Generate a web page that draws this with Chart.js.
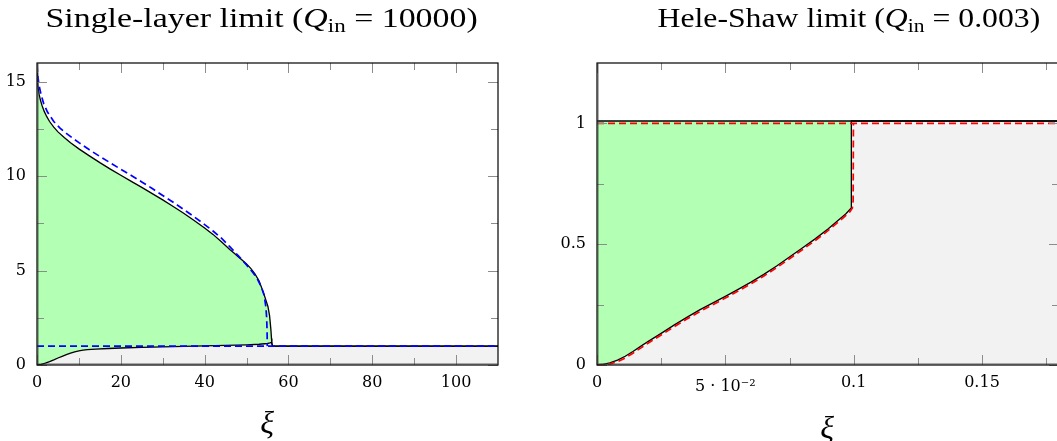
<!DOCTYPE html>
<html>
<head>
<meta charset="utf-8">
<script src="https://cdn.jsdelivr.net/npm/chart.js@4.4.0/dist/chart.umd.min.js"></script>
<style>
  html, body { margin: 0; padding: 0; background: #fff; width: 1057px; height: 441px; overflow: hidden; position: relative; }
  canvas { position: absolute; top: 0; }
  .ttl { position: absolute; top: 4px; font-family: "Liberation Serif", serif; font-size: 28px; line-height: 28px; white-space: nowrap; color: #000; transform-origin: 50% 50%; }
  .ttl sub { font-size: 19px; vertical-align: -5px; line-height: 0; }
  .xl { position: absolute; font-family: "Liberation Serif", serif; font-style: italic; font-size: 32px; line-height: 32px; transform: translateX(-50%); color: #000; }
</style>
</head>
<body>
<canvas id="c1" width="522" height="441" style="left:0px"></canvas>
<canvas id="c2" width="540" height="441" style="left:560px"></canvas>
<div class="ttl" id="t1" data-cx="261" data-w="432">Single-layer limit (<i>Q</i><sub>in</sub> = 10000)</div>
<div class="ttl" id="t2" data-cx="848.5" data-w="383">Hele-Shaw limit (<i>Q</i><sub>in</sub> = 0.003)</div>
<div class="xl" style="left:267px; top:406px">ξ</div>
<div class="xl" style="left:827px; top:411px">ξ</div>
<script>
// ---------- Left panel: single-layer limit ----------
const slLowerX = [0, 1, 2, 3, 4, 5, 6, 7, 8, 9, 10, 11, 12, 14, 17, 20, 25, 30, 35, 40, 45, 50, 53, 55, 55.6, 55.95, 56.2, 110];
const slLowerY = [0, 0.03, 0.1, 0.18, 0.27, 0.37, 0.46, 0.55, 0.63, 0.7, 0.75, 0.785, 0.81, 0.845, 0.875, 0.9, 0.935, 0.96, 0.985, 1.01, 1.04, 1.07, 1.1, 1.14, 1.17, 1.2, 1.0, 1.0];
const slUpperX = [0, 0.1, 0.25, 0.5, 0.8, 1.2, 1.7, 2.3, 3, 4, 5, 6.5, 8, 10, 12.5, 15, 17.5, 20, 22.5, 25, 27.5, 30, 32.5, 35, 37.5, 40, 42, 44, 46, 47, 48, 49, 50, 51, 52, 53, 54, 54.6, 55.1, 55.5, 55.8, 55.95, 56.05, 56.2, 110];
const slUpperY = [15.5, 15.1, 14.75, 14.35, 14.05, 13.75, 13.45, 13.17, 12.9, 12.6, 12.35, 12.05, 11.78, 11.45, 11.08, 10.72, 10.38, 10.05, 9.73, 9.41, 9.08, 8.75, 8.4, 8.04, 7.66, 7.26, 6.92, 6.53, 6.12, 5.93, 5.74, 5.55, 5.35, 5.12, 4.83, 4.45, 3.85, 3.45, 3.1, 2.6, 1.9, 1.4, 1.15, 1.0, 1.0];
const slApproxX = [0, 0.2, 0.5, 1, 1.6, 2.5, 4, 5.5, 7, 10, 12.5, 15, 17.5, 20, 22.5, 25, 27.5, 30, 32.5, 35, 37.5, 40, 42, 44, 46, 48, 50, 51.5, 52.5, 53.5, 54.2, 54.6, 54.8, 54.9, 54.95];
const slApproxY = [15.9, 15.3, 14.8, 14.3, 13.85, 13.4, 12.9, 12.55, 12.27, 11.78, 11.4, 11.05, 10.71, 10.37, 10.04, 9.7, 9.35, 8.98, 8.62, 8.24, 7.85, 7.44, 7.1, 6.72, 6.27, 5.8, 5.3, 4.9, 4.6, 4.15, 3.7, 3.1, 2.5, 1.8, 1.0];
const slBaseX = [0, 110];
const slBaseY = [1, 1];
const slXMajor = [0, 20, 40, 60, 80, 100];
const slXMinor = [10, 30, 50, 70, 90];
const slYMajor = [0, 5, 10, 15];
const slYMinor = [2.5, 7.5, 12.5];
const slXLabels = ['0', '20', '40', '60', '80', '100'];
const slYLabels = ['0', '5', '10', '15'];

// ---------- Right panel: Hele-Shaw limit ----------
const hsLowerX = [0, 0.002, 0.005, 0.008, 0.011, 0.014, 0.017, 0.02, 0.025, 0.03, 0.035, 0.04, 0.045, 0.05, 0.055, 0.06, 0.065, 0.07, 0.075, 0.08, 0.085, 0.09, 0.094, 0.097, 0.099, 0.0991, 0.18];
const hsLowerY = [0, 0.002, 0.009, 0.02, 0.036, 0.056, 0.077, 0.098, 0.131, 0.165, 0.197, 0.228, 0.256, 0.284, 0.313, 0.343, 0.375, 0.41, 0.447, 0.484, 0.522, 0.563, 0.599, 0.626, 0.649, 1.01, 1.01];
const hsUpperX = [0, 0.18];
const hsUpperY = [1.01, 1.01];
const hsApproxX = [0, 0.002, 0.005, 0.008, 0.011, 0.014, 0.017, 0.02, 0.025, 0.03, 0.035, 0.04, 0.045, 0.05, 0.055, 0.06, 0.065, 0.07, 0.075, 0.08, 0.085, 0.09, 0.094, 0.097, 0.0985, 0.0995, 0.0998, 0.0999];
const hsApproxY = [0, 0.001, 0.005, 0.014, 0.029, 0.049, 0.07, 0.091, 0.124, 0.158, 0.19, 0.221, 0.249, 0.277, 0.306, 0.336, 0.368, 0.403, 0.44, 0.477, 0.515, 0.556, 0.592, 0.619, 0.634, 0.65, 0.68, 1.0];
const hsTopX = [0, 0.18];
const hsTopY = [1.0, 1.0];
const hsXMajor = [0, 0.05, 0.1, 0.15];
const hsXMinor = [0.025, 0.075, 0.125, 0.175];
const hsYMajor = [0, 0.5, 1];
const hsYMinor = [0.25, 0.75];
const hsXLabels = ['0', '5 · 10⁻²', '0.1', '0.15'];
const hsYLabels = ['0', '0.5', '1'];

const GREEN = 'rgb(179,255,179)';
const GRAY = 'rgb(242,242,242)';
const zip = (xs, ys) => xs.map((x, i) => ({ x: x, y: ys[i] }));

// fit the HTML titles to the reference width
document.querySelectorAll('.ttl').forEach(el => {
  const w = el.offsetWidth;
  const target = parseFloat(el.dataset.w);
  const cx = parseFloat(el.dataset.cx);
  el.style.left = (cx - w / 2) + 'px';
  el.style.transform = 'scaleX(' + (target / w).toFixed(4) + ')';
});

const frameTicks = {
  id: 'frameTicks',
  afterDraw(chart, args, opts) {
    const ctx = chart.ctx, a = chart.chartArea;
    const xs = chart.scales.x, ys = chart.scales.y;
    ctx.save();
    ctx.strokeStyle = '#8c8c8c';
    ctx.lineWidth = 1;
    const maj = 10, mnr = 7;
    const drawX = (vals, len) => vals.forEach(v => {
      const p = Math.round(xs.getPixelForValue(v)) + 0.5;
      ctx.beginPath();
      ctx.moveTo(p, a.bottom); ctx.lineTo(p, a.bottom - len);
      ctx.moveTo(p, a.top); ctx.lineTo(p, a.top + len);
      ctx.stroke();
    });
    const drawY = (vals, len) => vals.forEach(v => {
      const p = Math.round(ys.getPixelForValue(v)) + 0.5;
      ctx.beginPath();
      ctx.moveTo(a.left, p); ctx.lineTo(a.left + len, p);
      ctx.moveTo(a.right, p); ctx.lineTo(a.right - len, p);
      ctx.stroke();
    });
    drawX(opts.xMajor, maj); drawX(opts.xMinor, mnr);
    drawY(opts.yMajor, maj); drawY(opts.yMinor, mnr);
    ctx.strokeStyle = '#000';
    ctx.lineWidth = 1.2;
    ctx.strokeRect(a.left, a.top, a.right - a.left, a.bottom - a.top);
    ctx.strokeStyle = 'rgba(60,60,60,0.8)';
    ctx.lineWidth = 1;
    ctx.beginPath();
    ctx.moveTo(a.left + 1, a.top); ctx.lineTo(a.left + 1, a.bottom - 1); ctx.lineTo(a.right, a.bottom - 1);
    ctx.stroke();
    ctx.restore();
  }
};

function makeChart(id, cfg) {
  return new Chart(document.getElementById(id), {
    type: 'line',
    data: { datasets: cfg.datasets },
    options: {
      responsive: false,
      animation: false,
      events: [],
      layout: { padding: { top: 63, right: cfg.padRight, left: 0, bottom: 0 } },
      elements: { point: { radius: 0 }, line: { tension: 0 } },
      plugins: {
        legend: { display: false },
        tooltip: { enabled: false },
        title: { display: false },
        filler: { drawTime: 'beforeDatasetsDraw', propagate: false },
        frameTicks: cfg.ticks
      },
      scales: {
        x: {
          type: 'linear', min: cfg.xMin, max: cfg.xMax,
          grid: { display: false, drawTicks: false },
          border: { display: false },
          afterBuildTicks: s => { s.ticks = cfg.ticks.xMajor.map(v => ({ value: v })); },
          afterFit: s => { s.height = 76; },
          ticks: {
            font: c => ({ family: 'DejaVu Serif', size: 16, lineHeight: (cfg.xLabels[c.index] || '').length > 4 ? 1.75 : 1.2 }),
            color: '#000', padding: 8, maxRotation: 0, autoSkip: false,
            callback: (v, i) => cfg.xLabels[i]
          }
        },
        y: {
          type: 'linear', min: cfg.yMin, max: cfg.yMax,
          grid: { display: false, drawTicks: false },
          border: { display: false },
          afterBuildTicks: s => { s.ticks = cfg.ticks.yMajor.map(v => ({ value: v })); },
          afterFit: s => { s.width = 37; },
          ticks: { font: { family: 'DejaVu Serif', size: 16 }, color: '#000', padding: 11, autoSkip: false,
                   callback: (v, i) => cfg.yLabels[i] }
        }
      }
    },
    plugins: [frameTicks]
  });
}

const lineBase = { pointRadius: 0, tension: 0 };

makeChart('c1', {
  padRight: 24, xMin: 0, xMax: 110, yMin: 0, yMax: 16,
  xLabels: slXLabels, yLabels: slYLabels,
  ticks: { xMajor: slXMajor, xMinor: slXMinor, yMajor: slYMajor, yMinor: slYMinor },
  datasets: [
    Object.assign({}, lineBase, { data: zip(slLowerX, slLowerY), borderColor: '#000', borderWidth: 1.3, backgroundColor: GRAY, fill: 'origin', order: 5 }),
    Object.assign({}, lineBase, { data: zip(slUpperX, slUpperY), borderColor: '#000', borderWidth: 1.3, backgroundColor: GREEN, fill: '-1', order: 4 }),
    Object.assign({}, lineBase, { data: zip(slApproxX, slApproxY), borderColor: '#0000ff', borderWidth: 1.7, borderDash: [7, 4], fill: false, order: 1 }),
    Object.assign({}, lineBase, { data: zip(slBaseX, slBaseY), borderColor: '#0000ff', borderWidth: 1.7, borderDash: [7, 4], fill: false, order: 1 })
  ]
});

makeChart('c2', {
  padRight: 41, xMin: 0, xMax: 0.18, yMin: 0, yMax: 1.25,
  xLabels: hsXLabels, yLabels: hsYLabels,
  ticks: { xMajor: hsXMajor, xMinor: hsXMinor, yMajor: hsYMajor, yMinor: hsYMinor },
  datasets: [
    Object.assign({}, lineBase, { data: zip(hsLowerX, hsLowerY), borderColor: '#000', borderWidth: 1.3, backgroundColor: GRAY, fill: 'origin', order: 5 }),
    Object.assign({}, lineBase, { data: zip(hsUpperX, hsUpperY), borderColor: '#000', borderWidth: 1.3, backgroundColor: GREEN, fill: '-1', order: 4 }),
    Object.assign({}, lineBase, { data: zip(hsApproxX, hsApproxY), borderColor: '#ff0000', borderWidth: 1.7, borderDash: [7, 4], fill: false, order: 1 }),
    Object.assign({}, lineBase, { data: zip(hsTopX, hsTopY), borderColor: '#ff0000', borderWidth: 1.7, borderDash: [7, 4], fill: false, order: 1 })
  ]
});
</script>
</body>
</html>
